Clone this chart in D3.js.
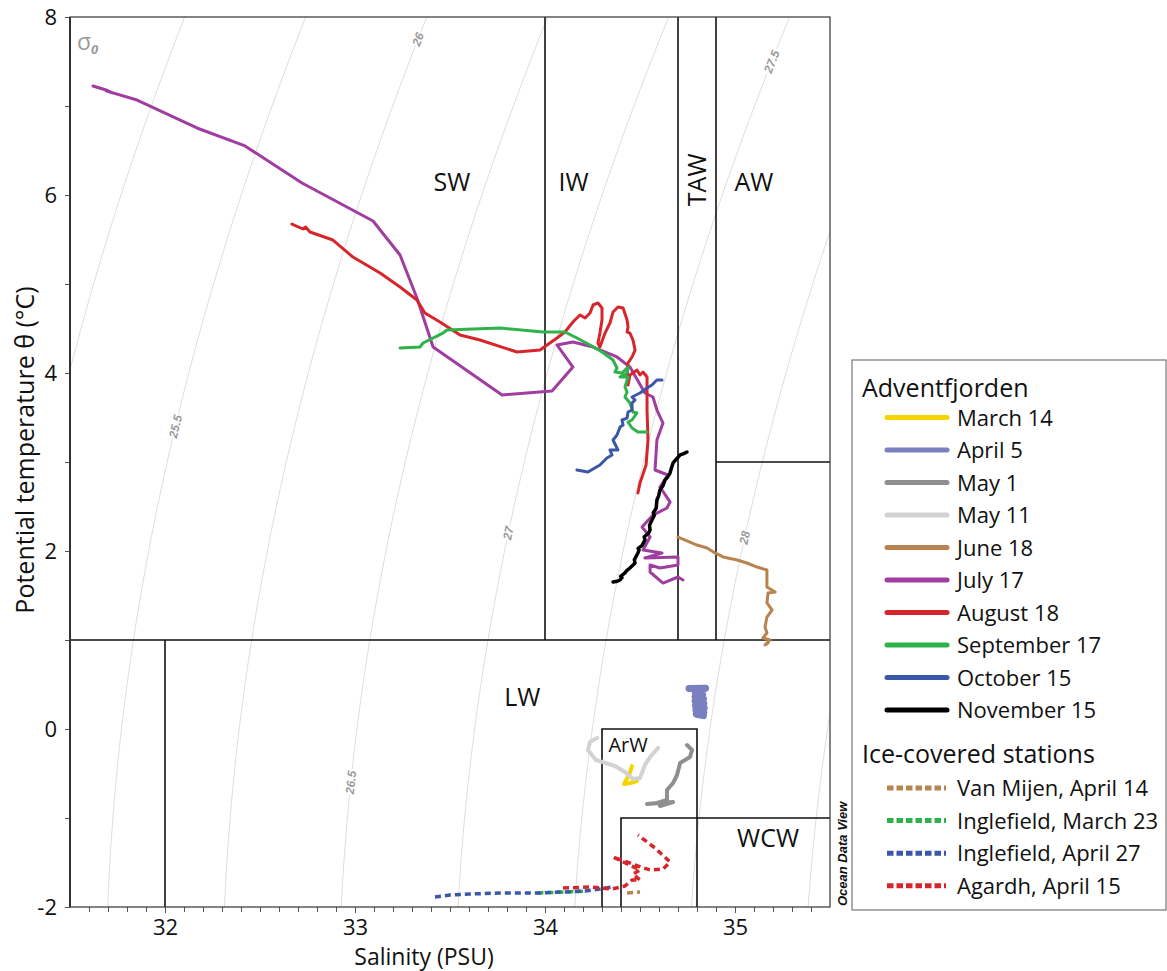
<!DOCTYPE html>
<html>
<head>
<meta charset="utf-8">
<script src="https://cdn.jsdelivr.net/npm/d3@7"></script>
<style>
  body { margin: 0; background: #fff; }
  svg { display: block; font-family: "Open Sans", sans-serif; }
</style>
</head>
<body>
<svg id="chart" width="1167" height="971"></svg>
<script>
// ---- Profiles: [salinity (PSU), potential temperature (°C)] ----
const march14 = [[34.458,-0.416],[34.442,-0.517],[34.416,-0.618],[34.447,-0.607],[34.484,-0.584]];
const april5 = [[34.758,0.455],[34.845,0.458],[34.800,0.435],[34.792,0.405],[34.830,0.385],[34.790,0.360],
  [34.834,0.335],[34.790,0.310],[34.836,0.285],[34.792,0.260],[34.838,0.235],[34.794,0.210],[34.836,0.185],
  [34.796,0.165],[34.834,0.150]];
const may1 = [[34.747,-0.180],[34.774,-0.236],[34.763,-0.315],[34.711,-0.382],[34.695,-0.517],[34.674,-0.607],
  [34.642,-0.685],[34.642,-0.798],[34.589,-0.831],[34.537,-0.843],[34.674,-0.820],[34.605,-0.865]];
const may11 = [[34.274,-0.101],[34.237,-0.146],[34.226,-0.236],[34.268,-0.348],[34.368,-0.416],[34.421,-0.483],
  [34.463,-0.562],[34.500,-0.551],[34.526,-0.404],[34.553,-0.315],[34.595,-0.213]];
const june18 = [[34.700,2.157],[34.763,2.101],[34.800,2.067],[34.853,2.034],[34.895,1.978],[34.937,1.933],
  [35.011,1.899],[35.063,1.865],[35.116,1.820],[35.168,1.787],[35.168,1.596],[35.211,1.539],[35.174,1.528],
  [35.168,1.416],[35.195,1.337],[35.168,1.258],[35.158,1.146],[35.168,1.079],[35.147,1.022],[35.184,1.000],
  [35.158,0.944],[35.174,0.966]];
const july17 = [[31.621,7.225],[31.690,7.180],[31.726,7.146],[31.690,7.170],[31.853,7.067],[32.168,6.753],
  [32.421,6.551],[32.721,6.135],[33.095,5.708],[33.237,5.326],[33.326,4.843],[33.411,4.292],[33.774,3.753],
  [34.037,3.798],[34.147,4.067],[34.063,4.315],[34.147,4.348],[34.253,4.292],[34.379,4.180],[34.447,4.067],
  [34.526,3.775],[34.568,3.730],[34.589,3.584],[34.621,3.438],[34.589,3.247],[34.579,2.910],[34.647,2.854],
  [34.605,2.719],[34.658,2.551],[34.642,2.483],[34.568,2.404],[34.511,2.270],[34.553,2.157],[34.516,2.011],
  [34.616,1.978],[34.526,1.921],[34.700,1.933],[34.700,1.843],[34.605,1.809],[34.553,1.843],[34.553,1.764],
  [34.621,1.640],[34.700,1.708],[34.726,1.674]];
const august18 = [[32.668,5.674],[32.726,5.618],[32.740,5.640],[32.763,5.584],[32.884,5.494],[32.989,5.303],
  [33.132,5.124],[33.237,4.966],[33.326,4.820],[33.368,4.674],[33.447,4.573],[33.553,4.427],[33.658,4.371],
  [33.853,4.236],[33.974,4.258],[34.063,4.393],[34.105,4.461],[34.147,4.573],[34.184,4.652],[34.211,4.618],
  [34.237,4.674],[34.253,4.764],[34.279,4.787],[34.300,4.730],[34.300,4.596],[34.289,4.449],[34.279,4.337],
  [34.289,4.292],[34.316,4.449],[34.342,4.562],[34.358,4.685],[34.384,4.742],[34.411,4.730],[34.432,4.596],
  [34.437,4.517],[34.432,4.461],[34.447,4.449],[34.463,4.371],[34.474,4.258],[34.458,4.180],[34.437,4.112],
  [34.432,4.034],[34.437,3.955],[34.437,3.865],[34.447,3.978],[34.484,4.034],[34.500,3.978],[34.516,4.011],
  [34.537,3.955],[34.537,3.809],[34.537,3.584],[34.542,3.247],[34.532,2.966],[34.500,2.764],[34.489,2.652]];
const september17 = [[33.237,4.281],[33.342,4.292],[33.358,4.337],[33.463,4.449],[33.484,4.483],[33.763,4.506],
  [33.989,4.461],[34.105,4.461],[34.168,4.393],[34.237,4.315],[34.300,4.236],[34.358,4.146],[34.379,4.056],
  [34.368,4.011],[34.405,4.000],[34.437,4.067],[34.432,4.000],[34.395,3.955],[34.437,3.955],[34.421,3.843],
  [34.432,3.787],[34.421,3.730],[34.447,3.663],[34.463,3.562],[34.484,3.551],[34.458,3.472],[34.437,3.449],
  [34.458,3.382],[34.489,3.337],[34.537,3.337]];
const october15 = [[34.168,2.910],[34.226,2.888],[34.289,2.966],[34.326,3.045],[34.353,3.079],[34.342,3.135],
  [34.384,3.135],[34.358,3.247],[34.379,3.303],[34.395,3.393],[34.411,3.416],[34.405,3.472],[34.432,3.494],
  [34.437,3.562],[34.458,3.584],[34.458,3.663],[34.474,3.697],[34.458,3.730],[34.500,3.775],[34.537,3.831],
  [34.563,3.865],[34.589,3.921],[34.616,3.921]];
const november15 = [[34.358,1.652],[34.380,1.660],[34.395,1.674],[34.405,1.700],[34.398,1.715],[34.421,1.753],
  [34.430,1.780],[34.447,1.809],[34.462,1.840],[34.474,1.865],[34.470,1.900],[34.489,1.978],[34.495,2.010],
  [34.490,2.030],[34.510,2.060],[34.526,2.124],[34.522,2.160],[34.545,2.200],[34.553,2.236],[34.550,2.290],
  [34.563,2.348],[34.575,2.400],[34.570,2.430],[34.585,2.480],[34.589,2.573],[34.598,2.620],[34.605,2.685],
  [34.620,2.730],[34.632,2.798],[34.645,2.830],[34.658,2.876],[34.665,2.930],[34.674,2.989],[34.690,3.030],
  [34.711,3.079],[34.730,3.095],[34.747,3.112]];

// Ice-covered stations
const vanMijenApr14 = [[34.432,-1.843],[34.500,-1.831]];
const inglefieldMar23 = [[33.960,-1.842],[34.100,-1.832],[34.200,-1.822]];
const inglefieldApr27 = [[33.421,-1.888],[33.500,-1.865],[33.605,-1.854],[33.763,-1.843],[33.974,-1.843],
  [34.211,-1.820],[34.289,-1.798],[34.353,-1.775]];
const agardhApr15 = [[34.095,-1.787],[34.237,-1.775],[34.353,-1.798],[34.421,-1.764],[34.458,-1.697],
  [34.500,-1.697],[34.463,-1.629],[34.500,-1.584],[34.358,-1.438],[34.489,-1.539],[34.553,-1.584],
  [34.621,-1.573],[34.658,-1.494],[34.579,-1.337],[34.489,-1.191]];

const fjordNames = ["March 14","April 5","May 1","May 11","June 18","July 17","August 18","September 17","October 15","November 15"];
const fjordColors = ["#f7d300","#7a7fc0","#8f8f8f","#d2d2d2","#b8834f","#a03da0","#d7262b","#2eb34b","#3a57a8","#000000"];
const fjordProfiles = [march14, april5, may1, may11, june18, july17, august18, september17, october15, november15];
const fjordWidths = [4, 7, 4, 4, 3, 3, 3, 3, 3, 3.5];

const iceNames = ["Van Mijen, April 14","Inglefield, March 23","Inglefield, April 27","Agardh, April 15"];
const iceColors = ["#b8834f","#2eb34b","#3a57a8","#d7262b"];
const iceProfiles = [vanMijenApr14, inglefieldMar23, inglefieldApr27, agardhApr15];

// Water-mass boundaries and names
const boundaries = [
  [[31.5,1],[35.5,1]],
  [[32,-2],[32,1]],
  [[34,1],[34,8]],
  [[34.7,1],[34.7,8]],
  [[34.9,1],[34.9,8]],
  [[34.9,3],[35.5,3]],
  [[34.3,-2],[34.3,0],[34.8,0],[34.8,-2]],
  [[34.4,-2],[34.4,-1],[35.5,-1]]
];
const massNames = ["SW","IW","AW","TAW","LW","ArW","WCW"];
const massPos = [[33.51,6.14],[34.15,6.14],[35.10,6.14],[34.80,6.17],[33.88,0.36],[34.437,-0.18],[35.174,-1.225]];
const massSize = [25,25,25,25,25,20,25];

// Isopycnal levels (sigma-0, kg/m3) and where their labels sit (temperature)
const sigmaLevels = [24.5,25,25.5,26,26.5,27,27.5,28,28.5];
const sigmaLabels = [25.5,26,26.5,27,27.5,28];
const sigmaLabelT = [3.4,7.75,-0.6,2.2,7.5,2.15];

const xTicks = [32,33,34,35];
const yTicks = [-2,0,2,4,6,8];

// UNESCO (1983) density of sea water at surface pressure
function sigma0(S, T) {
  const rw = 999.842594 + 6.793952e-2*T - 9.095290e-3*T*T + 1.001685e-4*T**3 - 1.120083e-6*T**4 + 6.536332e-9*T**5;
  const A = 0.824493 - 4.0899e-3*T + 7.6438e-5*T*T - 8.2467e-7*T**3 + 5.3875e-9*T**4;
  const B = -5.72466e-3 + 1.0227e-4*T - 1.6546e-6*T*T;
  return rw + A*S + B*S**1.5 + 4.8314e-4*S*S - 1000;
}
function salinityFor(sig, T) {
  let lo = 20, hi = 45;
  for (let i = 0; i < 60; i++) {
    const mid = (lo + hi) / 2;
    if (sigma0(mid, T) < sig) lo = mid; else hi = mid;
  }
  return (lo + hi) / 2;
}

const svg = d3.select("#chart");
const L = 70, R = 830, T0 = 17, B0 = 907;
const x = d3.scaleLinear().domain([31.5, 35.5]).range([L, R]);
const y = d3.scaleLinear().domain([-2, 8]).range([B0, T0]);

svg.append("defs").append("clipPath").attr("id", "plot")
  .append("rect").attr("x", L).attr("y", T0).attr("width", R - L).attr("height", B0 - T0);

const plot = svg.append("g").attr("clip-path", "url(#plot)");
const line = d3.line().x(d => x(d[0])).y(d => y(d[1]));

// isopycnals
const tSteps = d3.range(-2.2, 8.21, 0.1);
sigmaLevels.forEach(s => {
  const pts = tSteps.map(t => [salinityFor(s, t), t]);
  plot.append("path").attr("d", line(pts))
    .attr("fill", "none").attr("stroke", "#d4d4d4").attr("stroke-width", 0.8);
});
sigmaLabels.forEach((s, i) => {
  const t = sigmaLabelT[i];
  const sA = salinityFor(s, t - 0.1), sB = salinityFor(s, t + 0.1), sC = salinityFor(s, t);
  const ang = Math.atan2(y(t + 0.1) - y(t - 0.1), x(sB) - x(sA)) * 180 / Math.PI;
  plot.append("text")
    .attr("transform", `translate(${x(sC)},${y(t)}) rotate(${ang})`)
    .attr("text-anchor", "middle").attr("dy", "0.35em")
    .attr("font-family", "Liberation Sans, Arial, sans-serif")
    .attr("font-size", 12).attr("font-style", "italic").attr("font-weight", "bold")
    .attr("fill", "#9a9a9a").attr("stroke", "#fff").attr("stroke-width", 4)
    .attr("paint-order", "stroke").text(s);
});

// water-mass boundaries
boundaries.forEach(b => {
  plot.append("path").attr("d", line(b))
    .attr("fill", "none").attr("stroke", "#111").attr("stroke-width", 1.6);
});

// profiles
iceProfiles.forEach((p, i) => {
  plot.append("path").attr("d", line(p))
    .attr("fill", "none").attr("stroke", iceColors[i]).attr("stroke-width", 3.5)
    .attr("stroke-dasharray", "6,4").attr("stroke-linejoin", "round");
});
fjordProfiles.forEach((p, i) => {
  plot.append("path").attr("d", line(p))
    .attr("fill", "none").attr("stroke", fjordColors[i]).attr("stroke-width", fjordWidths[i])
    .attr("stroke-linejoin", "round").attr("stroke-linecap", "round");
});

// water-mass names
massNames.forEach((n, i) => {
  const t = svg.append("text")
    .attr("text-anchor", "middle").attr("dy", "0.35em")
    .attr("font-size", massSize[i]).attr("fill", "#111").text(n);
  if (n === "TAW") t.attr("transform", `translate(${x(massPos[i][0])},${y(massPos[i][1])}) rotate(-90)`);
  else t.attr("x", x(massPos[i][0])).attr("y", y(massPos[i][1]));
});

// sigma-0 tag
const sg = svg.append("text").attr("x", 77).attr("y", 50).attr("fill", "#9a9a9a");
sg.append("tspan").attr("font-size", 23).text("σ");
sg.append("tspan").attr("font-size", 13).attr("font-style", "italic").attr("font-weight", "bold")
  .attr("dy", 4).text("0");

// axes
const xAxis = svg.append("g").attr("transform", `translate(0,${B0})`)
  .call(d3.axisBottom(x).tickValues(d3.range(31.6, 35.45, 0.1)).tickSize(5).tickFormat(""));
const xMajor = svg.append("g").attr("transform", `translate(0,${B0})`)
  .call(d3.axisBottom(x).tickValues(xTicks).tickSize(6).tickPadding(6).tickFormat(d => String(d)));
const yAxis = svg.append("g").attr("transform", `translate(${L},0)`)
  .call(d3.axisLeft(y).tickValues(d3.range(-2, 8.1, 1)).tickSize(5).tickFormat(""));
const yMajor = svg.append("g").attr("transform", `translate(${L},0)`)
  .call(d3.axisLeft(y).tickValues(yTicks).tickSize(5).tickPadding(8).tickFormat(d => String(d)));
[xAxis, xMajor, yAxis, yMajor].forEach(g => {
  g.select(".domain").remove();
  g.selectAll("line").attr("stroke", "#555");
  g.selectAll("text").attr("font-family", "Open Sans, sans-serif").attr("font-size", 22).attr("fill", "#111");
});

// frame
svg.append("rect").attr("x", L).attr("y", T0).attr("width", R - L).attr("height", B0 - T0)
  .attr("fill", "none").attr("stroke", "#333").attr("stroke-width", 1.2);
svg.append("line").attr("x1", L).attr("x2", L).attr("y1", T0).attr("y2", B0)
  .attr("stroke", "#333").attr("stroke-width", 2);

// axis titles
svg.append("text").attr("x", 424).attr("y", 965).attr("text-anchor", "middle")
  .attr("font-size", 23).attr("fill", "#111").text("Salinity (PSU)");
svg.append("text").attr("transform", `translate(34,450) rotate(-90)`)
  .attr("text-anchor", "middle").attr("font-size", 25).attr("fill", "#111")
  .text("Potential temperature θ (°C)");

// Ocean Data View tag
svg.append("text").attr("transform", "translate(847,906) rotate(-90)")
  .attr("font-family", "Liberation Sans, Arial, sans-serif").attr("font-size", 13)
  .attr("font-style", "italic").attr("font-weight", "bold").attr("fill", "#111").text("Ocean Data View");

// legend
const lg = svg.append("g");
lg.append("rect").attr("x", 852).attr("y", 360).attr("width", 314).attr("height", 550)
  .attr("fill", "#fff").attr("stroke", "#777").attr("stroke-width", 1.2);
lg.append("text").attr("x", 862).attr("y", 397).attr("font-size", 25).attr("fill", "#111").text("Adventfjorden");
fjordNames.forEach((n, i) => {
  const yy = 417.5 + i * 32.5;
  lg.append("line").attr("x1", 887).attr("x2", 947).attr("y1", yy).attr("y2", yy)
    .attr("stroke", fjordColors[i]).attr("stroke-width", 5).attr("stroke-linecap", "round");
  lg.append("text").attr("x", 957).attr("y", yy + 8).attr("font-size", 22).attr("fill", "#111").text(n);
});
lg.append("text").attr("x", 862).attr("y", 763).attr("font-size", 25).attr("fill", "#111").text("Ice-covered stations");
iceNames.forEach((n, i) => {
  const yy = 788 + i * 32.6;
  lg.append("line").attr("x1", 887).attr("x2", 946).attr("y1", yy).attr("y2", yy)
    .attr("stroke", iceColors[i]).attr("stroke-width", 5).attr("stroke-dasharray", "6.5,3");
  lg.append("text").attr("x", 957).attr("y", yy + 8).attr("font-size", 22).attr("fill", "#111").text(n);
});
</script>
</body>
</html>
